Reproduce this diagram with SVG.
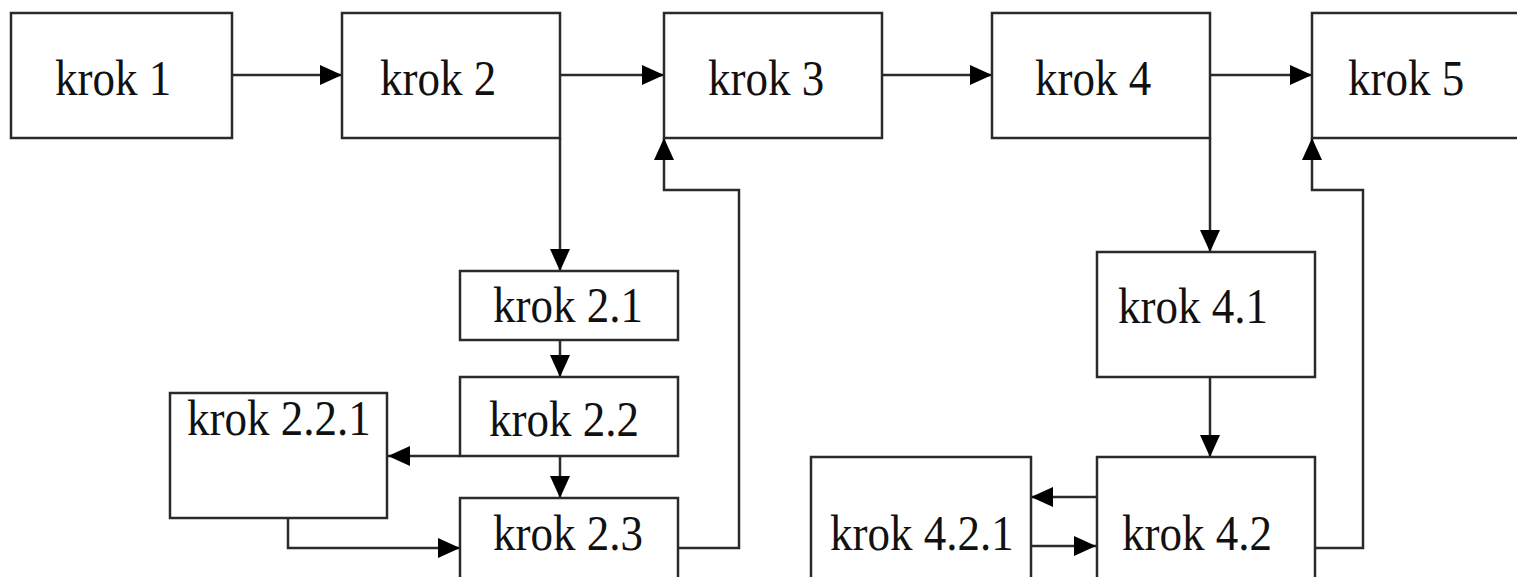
<svg xmlns="http://www.w3.org/2000/svg" width="1517" height="577" viewBox="0 0 1517 577">
<style>
.box{fill:#fff;stroke:#2a2a2a;stroke-width:2.5}
.lbl{font-family:"Liberation Serif","Times New Roman",serif;font-size:45px;fill:#111}
.con{fill:none;stroke:#2a2a2a;stroke-width:2.5}
</style>
<defs>
<marker id="ah" markerUnits="userSpaceOnUse" markerWidth="22" markerHeight="20" viewBox="0 0 22 20" refX="22" refY="10" orient="auto">
<path d="M0,0 L22,10 L0,20 z" fill="#000"/>
</marker>
</defs>
<rect width="1517" height="577" fill="#fff"/>
<g id="connectors">
<line class="con" x1="232" y1="75" x2="342" y2="75" marker-end="url(#ah)"/>
<line class="con" x1="560" y1="75" x2="664" y2="75" marker-end="url(#ah)"/>
<line class="con" x1="882" y1="75" x2="992" y2="75" marker-end="url(#ah)"/>
<line class="con" x1="1210" y1="75" x2="1312" y2="75" marker-end="url(#ah)"/>
<line class="con" x1="560" y1="138" x2="560" y2="271" marker-end="url(#ah)"/>
<line class="con" x1="560" y1="340" x2="560" y2="377" marker-end="url(#ah)"/>
<line class="con" x1="560" y1="456" x2="560" y2="498" marker-end="url(#ah)"/>
<line class="con" x1="460" y1="456" x2="388" y2="456" stroke-width="3.5" marker-end="url(#ah)"/>
<polyline class="con" points="288,518 288,548 460,548" marker-end="url(#ah)"/>
<polyline class="con" points="678,548 739,548 739,190 664,190 664,138" marker-end="url(#ah)"/>
<line class="con" x1="1210" y1="138" x2="1210" y2="252" marker-end="url(#ah)"/>
<line class="con" x1="1210" y1="377" x2="1210" y2="457" marker-end="url(#ah)"/>
<line class="con" x1="1096" y1="497" x2="1031" y2="497" marker-end="url(#ah)"/>
<line class="con" x1="1031" y1="546" x2="1096" y2="546" marker-end="url(#ah)"/>
<polyline class="con" points="1315,548 1363,548 1363,190 1312,190 1312,138" marker-end="url(#ah)"/>
</g>
<g id="krok1"><rect class="box" x="11" y="13" width="221" height="125"/><text class="lbl" transform="translate(55,95) scale(1,1.12)">krok 1</text></g>
<g id="krok2"><rect class="box" x="342" y="13" width="218" height="125"/><text class="lbl" transform="translate(380,95) scale(1,1.12)">krok 2</text></g>
<g id="krok3"><rect class="box" x="664" y="13" width="218" height="125"/><text class="lbl" transform="translate(708,95) scale(1,1.12)">krok 3</text></g>
<g id="krok4"><rect class="box" x="992" y="13" width="218" height="125"/><text class="lbl" transform="translate(1035,95) scale(1,1.12)">krok 4</text></g>
<g id="krok5"><rect class="box" x="1312" y="13" width="220" height="125"/><text class="lbl" transform="translate(1348,95) scale(1,1.12)">krok 5</text></g>
<g id="krok2_1"><rect class="box" x="460" y="271" width="218" height="69"/><text class="lbl" transform="translate(493,322) scale(1,1.12)">krok 2.1</text></g>
<g id="krok2_2"><rect class="box" x="460" y="377" width="218" height="79"/><text class="lbl" transform="translate(489,436) scale(1,1.12)">krok 2.2</text></g>
<g id="krok2_3"><rect class="box" x="460" y="498" width="218" height="100"/><text class="lbl" transform="translate(493,550) scale(1,1.12)">krok 2.3</text></g>
<g id="krok2_2_1"><rect class="box" x="170" y="393" width="217" height="125"/><text class="lbl" transform="translate(187,435) scale(1,1.12)">krok 2.2.1</text></g>
<g id="krok4_1"><rect class="box" x="1097" y="252" width="218" height="125"/><text class="lbl" transform="translate(1118,323) scale(1,1.12)">krok 4.1</text></g>
<g id="krok4_2"><rect class="box" x="1097" y="457" width="218" height="140"/><text class="lbl" transform="translate(1122,550) scale(1,1.12)">krok 4.2</text></g>
<g id="krok4_2_1"><rect class="box" x="811" y="457" width="220" height="140"/><text class="lbl" transform="translate(830,550) scale(1,1.12)">krok 4.2.1</text></g>
</svg>
